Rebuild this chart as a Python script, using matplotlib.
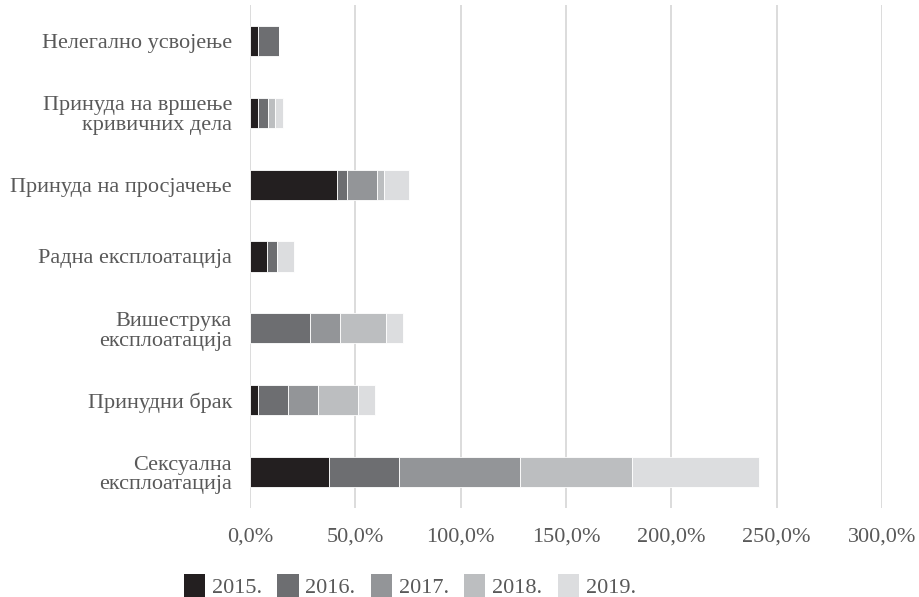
import matplotlib
matplotlib.use("Agg")
import matplotlib.pyplot as plt
import numpy as np
from matplotlib.ticker import FuncFormatter

# categories, top to bottom as shown
categories = ["Нелегално усвојење",
              "Принуда на вршење\nкривичних дела",
              "Принуда на просјачење",
              "Радна експлоатација",
              "Вишеструка\nексплоатација",
              "Принудни брак",
              "Сексуална\nексплоатација"]
years = ["2015.", "2016.", "2017.", "2018.", "2019."]

# values in percent, one list per year (same order as categories)
v2015 = [4.0, 4.0, 41.3, 8.3, 0.0, 3.9, 37.5]
v2016 = [9.6, 4.7, 4.9, 4.7, 28.3, 14.3, 33.2]
v2017 = [0.0, 0.0, 14.2, 0.0, 14.2, 14.2, 57.3]
v2018 = [0.0, 3.2, 3.3, 0.0, 21.9, 19.0, 53.4]
v2019 = [0.0, 3.6, 11.9, 7.9, 8.0, 7.9, 60.2]

colors = ["#231f20", "#6d6e71", "#939598", "#bcbec0", "#dcdddf"]
txt = "#595959"

plt.rcParams['font.family'] = ['Liberation Serif', 'DejaVu Serif']

fig = plt.figure(figsize=(9.19, 5.97), dpi=100)
ax = fig.add_axes([250/919, 1-508/597, (882-250)/919, 503/597])

y = np.arange(len(categories))
left = np.zeros(len(categories))
for vals, lab, c in zip([v2015, v2016, v2017, v2018, v2019], years, colors):
    vals = np.array(vals)
    ax.barh(y, vals, left=left, height=0.42, color=c, label=lab,
            edgecolor="white", linewidth=0.6)
    left += vals

ax.set_ylim(len(categories) - 0.5, -0.5)
ax.set_xlim(0, 300)
ax.set_xticks(np.arange(0, 301, 50))
ax.xaxis.set_major_formatter(FuncFormatter(lambda v, p: f"{v:.1f}%".replace(".", ",")))
ax.set_yticks(y)
ax.set_yticklabels(categories, ha="right", linespacing=1.05)

ax.grid(axis="x", color="#d9d9d9", linewidth=1.3)
ax.set_axisbelow(True)
for s in ax.spines.values():
    s.set_visible(False)
ax.tick_params(axis="both", length=0, labelsize=16, colors=txt)
ax.tick_params(axis="x", pad=14)
ax.tick_params(axis="y", pad=13)

leg = fig.legend(loc="lower center", bbox_to_anchor=(0.446, -0.036), ncol=5,
                 frameon=False, fontsize=16, handlelength=0.95, handleheight=1.25,
                 columnspacing=0.7, handletextpad=0.3)
for t in leg.get_texts():
    t.set_color(txt)
for p in leg.get_patches():
    p.set_edgecolor("none")

fig.savefig("out.png", dpi=100)
